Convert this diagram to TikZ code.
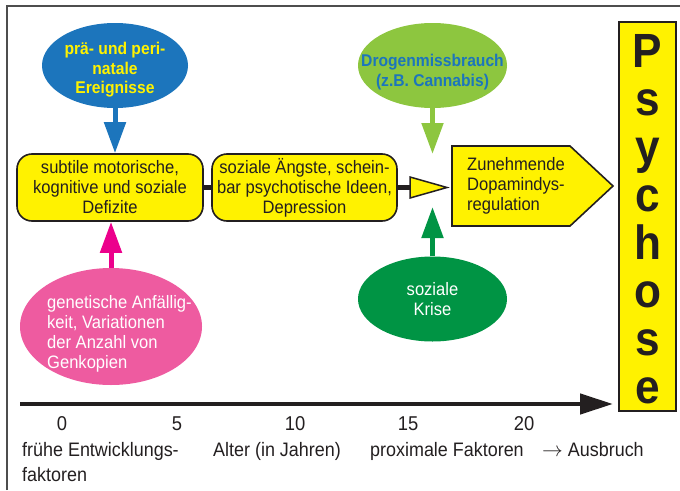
\documentclass[tikz,border=0pt]{standalone}
\usepackage{fontspec}
\setmainfont{Liberation Sans}[FakeStretch=0.92]
\usetikzlibrary{shapes.geometric,arrows.meta}
\definecolor{ylw}{HTML}{FFF200}
\definecolor{blu}{HTML}{1C75BC}
\definecolor{lgr}{HTML}{8DC63F}
\definecolor{dgr}{HTML}{009444}
\definecolor{pnk}{HTML}{EE5BA0}
\definecolor{mag}{HTML}{EC008C}
\definecolor{ink}{HTML}{231F20}
\definecolor{frm}{HTML}{4D4D4D}
\begin{document}
\begin{tikzpicture}[x=1pt,y=-1pt,
  txt/.style={font=\fontsize{18}{20}\selectfont, text=ink, inner sep=0pt},
  btxt/.style={font=\fontsize{17}{19.5}\selectfont\bfseries, inner sep=0pt, align=center},
  oval/.style={ellipse, inner sep=0pt},
  ybox/.style={draw=ink, line width=1.6pt, fill=ylw, rounded corners=15pt, minimum width=186pt, minimum height=67pt, inner sep=0pt, align=center, txt},
  link/.style={draw=ink, line width=4.3pt},
  varrow/.style={line width=5pt, -{Triangle[length=31pt,width=21pt]}},
  big/.style={font=\fontsize{48}{48}\selectfont\bfseries, text=ink, inner sep=0pt, anchor=base},
  num/.style={font=\fontsize{20}{22}\selectfont, text=ink, inner sep=0pt, anchor=base},
  lab/.style={font=\fontsize{19.5}{24}\selectfont, text=ink, inner sep=0pt, anchor=base west},
]
\useasboundingbox (0,0) rectangle (680,490);
% frame
\coordinate (f1) at (7,490);
\coordinate (f2) at (7,6);
\coordinate (f3) at (680,6);
\draw[frm, line width=1.5pt] (f1) -- (f2) -- (f3);

% ellipses
\node[oval, fill=blu, minimum width=146pt, minimum height=85pt] (pre) at (115,65.5) {};
\node[btxt, text=ylw] (pret) at (115,70) {prä- und peri-\\natale\\Ereignisse};
\node[oval, fill=lgr, minimum width=149pt, minimum height=85pt] (drug) at (432.5,65.5) {};
\node[btxt, text=blu] (drugt) at (432.5,72) {Drogenmissbrauch\\(z.B. Cannabis)};
\node[oval, fill=dgr, minimum width=149pt, minimum height=85pt] (crisis) at (432.5,299) {};
\node[txt, text=white, align=center] (crisist) at (432.5,299) {soziale\\Krise};
\node[oval, fill=pnk, minimum width=182pt, minimum height=117pt] (gen) at (111,326.5) {};
\node[txt, text=white, align=left, anchor=north west] (gent) at (47,295) {genetische Anfällig-\\keit, Variationen\\der Anzahl von\\Genkopien};

% boxes
\node[ybox] (b1) at (110,187.5) {subtile motorische,\\kognitive und soziale\\Defizite};
\node[ybox, minimum width=185pt] (b2) at (304.5,187.5) {soziale Ängste, schein-\\bar psychotische Ideen,\\Depression};
\draw[link] (b1.east) -- (b2.west);
\coordinate (tw) at (410,187.5);
\draw[link] (b2.east) -- (tw);
\draw[ink, line width=1.5pt, fill=ylw, line join=miter] (410,177) -- (447,187.5) -- (410,198) -- cycle;

% pentagon
\coordinate (dopa) at (532,186);
\draw[ink, line width=1.6pt, fill=ylw, line join=miter] (452,146) -- (570,146) -- (613,186) -- (570,226) -- (452,226) -- cycle;
\node[txt, align=left, anchor=north west] (dopat) at (467,157) {Zunehmende\\Dopamindys-\\regulation};

% vertical arrows
\draw[blu, varrow] (pre.south) -- (pre.south |- b1.north);
\coordinate (lgtip) at (432.5,154);
\draw[lgr, varrow] (drug.south) -- (lgtip);
\coordinate (dgtip) at (432.5,207);
\draw[dgr, varrow] (crisis.north) -- (dgtip);
\draw[mag, varrow] (gen.north) -- (gen.north |- b1.south);

% Psychose
\node[draw=ink, line width=1.6pt, fill=ylw, minimum width=57pt, minimum height=389pt, inner sep=0pt] (psy) at (647.5,216.5) {};
\foreach \l/\yy in {P/67, s/115, y/163, c/211, h/259, o/307, s/355, e/403}
  \node[big] (L\yy) at (647.5,\yy) {\l};

% timeline
\coordinate (t0) at (20,404);
\coordinate (t1) at (613,404);
\draw[ink, line width=4.5pt, -{Triangle[length=33pt,width=20pt]}] (t0) -- (t1);
\node[num] (n0) at (62,430) {0};
\node[num] (n5) at (177,430) {5};
\node[num] (n10) at (295,430) {10};
\node[num] (n15) at (408,430) {15};
\node[num] (n20) at (524,430) {20};

\node[lab] (l1) at (22,456) {frühe Entwicklungs-};
\node[lab] (l1b) at (22,481) {faktoren};
\node[lab] (l2) at (213,456) {Alter (in Jahren)};
\node[lab] (l3) at (370,456) {proximale Faktoren};
\node[lab] (l4) at (542,456) {$\rightarrow$ Ausbruch};
\end{tikzpicture}
\end{document}
